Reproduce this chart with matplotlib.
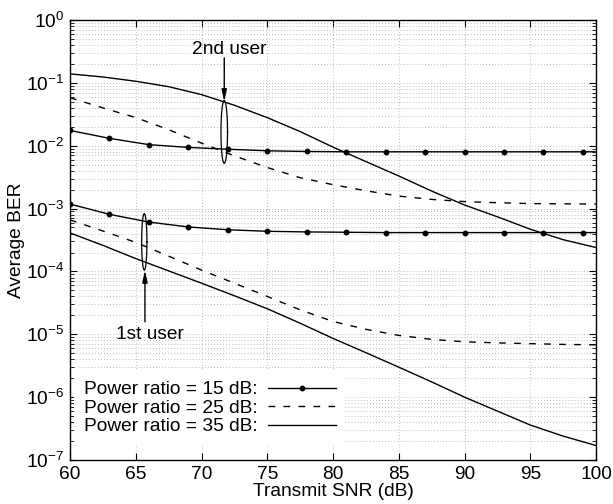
import numpy as np
import matplotlib
matplotlib.use("Agg")
import matplotlib.pyplot as plt
from matplotlib.ticker import LogLocator, FixedLocator, NullFormatter, LogFormatterMathtext

plt.rcParams['font.family'] = ['Liberation Sans', 'DejaVu Sans']
plt.rcParams['mathtext.fontset'] = 'custom'
plt.rcParams['mathtext.rm'] = 'Liberation Sans'
plt.rcParams['mathtext.it'] = 'Liberation Sans:italic'
plt.rcParams['mathtext.bf'] = 'Liberation Sans:bold'

# ---- data ----
snr_15 = [60, 63, 66, 69, 72, 75, 78, 81, 84, 87, 90, 93, 96, 99, 100]
ber_15_user2 = [0.0175, 0.0131, 0.0104, 0.0094, 0.0088, 0.0083, 0.0081, 0.0080,
                0.0080, 0.0080, 0.0080, 0.0080, 0.0080, 0.0080, 0.0080]
ber_15_user1 = [1.18e-3, 8.1e-4, 6.1e-4, 5.1e-4, 4.6e-4, 4.35e-4, 4.25e-4, 4.2e-4,
                4.15e-4, 4.15e-4, 4.15e-4, 4.15e-4, 4.15e-4, 4.15e-4, 4.15e-4]

snr = [60, 62.5, 65, 67.5, 70, 72.5, 75, 77.5, 80, 82.5, 85, 87.5, 90, 92.5, 95, 97.5, 100]
ber_25_user2 = [0.058, 0.040, 0.028, 0.018, 0.011, 0.0069, 0.0045, 0.0031, 0.0024,
                0.00192, 0.00158, 0.0014, 0.00129, 0.00124, 0.0012, 0.00119, 0.00118]
ber_35_user2 = [0.139, 0.124, 0.106, 0.087, 0.065, 0.044, 0.028, 0.0168, 0.0095,
                0.0056, 0.0033, 0.0019, 0.00114, 7.4e-4, 4.7e-4, 3.2e-4, 2.4e-4]
ber_25_user1 = [6.6e-4, 4.4e-4, 2.9e-4, 1.75e-4, 1.05e-4, 6.5e-5, 4.0e-5, 2.45e-5, 1.6e-5,
                1.2e-5, 9.6e-6, 8.3e-6, 7.6e-6, 7.3e-6, 7.1e-6, 6.9e-6, 6.8e-6]
ber_35_user1 = [4.1e-4, 2.6e-4, 1.6e-4, 1.02e-4, 6.5e-5, 4.1e-5, 2.55e-5, 1.5e-5, 8.6e-6,
                5.1e-6, 3.0e-6, 1.75e-6, 1.0e-6, 6.0e-7, 3.6e-7, 2.4e-7, 1.7e-7]

legend_labels = ["Power ratio = 15 dB:", "Power ratio = 25 dB:", "Power ratio = 35 dB:"]
x_ticks = [60, 65, 70, 75, 80, 85, 90, 95, 100]

FS = 13.8
fig = plt.figure(figsize=(6.13, 5.04), dpi=100)
ax = fig.add_axes([70/613, 44/504, 526/613, 440/504])
ax.set_yscale('log')

dash = (4.8, 6.0)
l15, = ax.plot(snr_15, ber_15_user1, color='black', lw=1.0, marker='o', ms=3.2,
               markevery=list(range(14)), label=legend_labels[0])
ax.plot(snr_15, ber_15_user2, color='black', lw=1.0, marker='o', ms=3.2,
        markevery=list(range(14)))
l25, = ax.plot(snr, ber_25_user1, color='black', lw=1.0, dashes=dash, label=legend_labels[1])
ax.plot(snr, ber_25_user2, color='black', lw=1.0, dashes=dash)
l35, = ax.plot(snr, ber_35_user1, color='black', lw=1.0, label=legend_labels[2])
ax.plot(snr, ber_35_user2, color='black', lw=1.0)

# ellipses (drawn in log space)
t = np.linspace(0, 2*np.pi, 200)
for xc, lyc, a, b in [(65.65, -3.53, 0.2, 0.45), (71.73, -1.78, 0.25, 0.5)]:
    ax.plot(xc + a*np.cos(t), 10**(lyc + b*np.sin(t)), color='black', lw=0.9)

arrowprops = dict(arrowstyle='-|>,head_length=0.7,head_width=0.15', color='black', lw=1.0,
                  shrinkA=0, shrinkB=0)
ax.annotate('', xy=(71.73, 0.05), xytext=(71.73, 0.25), arrowprops=arrowprops)
ax.annotate('', xy=(65.7, 1.05e-4), xytext=(65.7, 1.58e-5), arrowprops=arrowprops)
ax.text(72.1, 0.345, '2nd user', fontsize=FS, ha='center', va='center')
ax.text(66.1, 9.8e-6, '1st user', fontsize=FS, ha='center', va='center')

ax.set_xlim(60, 100)
ax.set_ylim(1e-7, 1)
ax.xaxis.set_major_locator(FixedLocator(x_ticks))
ax.yaxis.set_major_locator(LogLocator(base=10, numticks=20))
ax.yaxis.set_minor_locator(LogLocator(base=10, subs=np.arange(2, 10), numticks=20))
ax.yaxis.set_minor_formatter(NullFormatter())
ax.yaxis.set_major_formatter(LogFormatterMathtext())

gridkw = dict(color='#959595', linestyle=(0, (1, 3)), linewidth=0.55)
ax.grid(True, which='major', axis='both', **gridkw)
ax.grid(True, which='minor', axis='y', **gridkw)

ax.tick_params(which='both', direction='in', top=True, right=True, labelsize=FS)
ax.tick_params(axis='x', pad=4)
ax.tick_params(axis='y', pad=4)
ax.tick_params(which='major', length=5, width=0.8)
ax.tick_params(which='minor', length=3, width=0.6)
for s in ax.spines.values():
    s.set_linewidth(1.0)

ax.set_xlabel('Transmit SNR (dB)', fontsize=FS, labelpad=0)
ax.set_ylabel('Average BER', fontsize=FS, labelpad=1)

leg = ax.legend(handles=[l15, l25, l35], loc='lower left', bbox_to_anchor=(0.0076, 0.034),
                borderaxespad=0, markerfirst=False, fontsize=FS, handlelength=3.55,
                handletextpad=0.55, labelspacing=0.06, borderpad=0.5, frameon=True,
                fancybox=False, edgecolor='white', facecolor='white', framealpha=1)
leg.get_frame().set_linewidth(0)

fig.savefig('out.png', dpi=100)
